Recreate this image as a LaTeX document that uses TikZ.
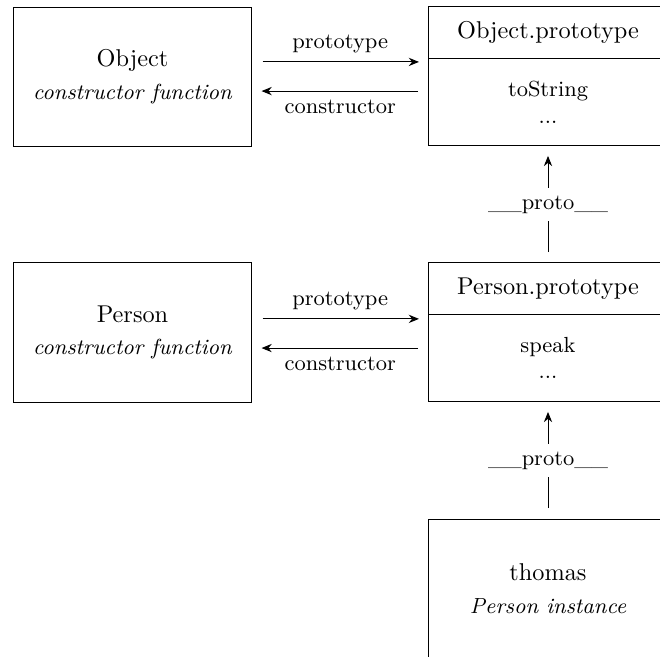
\documentclass[tikz,border=0pt]{standalone}
\usetikzlibrary{arrows.meta,calc}
\begin{document}
\begin{tikzpicture}[x=0.4115pt,y=-0.4115pt,line width=0.4pt,
  box/.style={draw,inner sep=0pt,align=center,minimum width=98pt},
  bigbox/.style={box,minimum height=57.6pt},
  headbox/.style={box,minimum height=21pt},
  bodybox/.style={box,minimum height=36.2pt,font=\small},
  arr/.style={-{Stealth[length=4.2pt,width=3.4pt]},shorten <=4.3pt,shorten >=3.9pt},
  lbl/.style={font=\small},
  protolbl/.style={fill=white,font=\small}]
\useasboundingbox (0,0) rectangle (660,657);
\clip (0,0) rectangle (660,657);
% row 1
\node[bigbox] (obj) at (132.5,77) {Object\\[1.5pt]{\small\itshape constructor function}};
\node[headbox] (objh) at (548,32.5) {Object.prototype};
\node[bodybox] (objb) at (548,102) {toString\\...};
% row 2
\node[bigbox] (per) at (132.5,332.5) {Person\\[1.5pt]{\small\itshape constructor function}};
\node[headbox] (perh) at (548,288.5) {Person.prototype};
\node[bodybox] (perb) at (548,358) {speak\\...};
% row 3
\node[bigbox] (tho) at (548,589) {thomas\\[1.5pt]{\small\itshape Person instance}};
% horizontal connectors
\draw[arr] ([yshift=6.2pt]obj.east) -- node[above,lbl]{prototype} ([yshift=6.2pt]obj.east -| objh.west);
\draw[arr] ([yshift=-5.8pt]obj.east -| objb.west) -- node[below,lbl]{constructor} ([yshift=-5.8pt]obj.east);
\draw[arr] ([yshift=5.6pt]per.east) -- node[above,lbl]{prototype} ([yshift=5.6pt]per.east -| perh.west);
\draw[arr] ([yshift=-6.4pt]per.east -| perb.west) -- node[below,lbl]{constructor} ([yshift=-6.4pt]per.east);
% vertical connectors
\draw[arr] (perh.north) -- node[protolbl]{\_\_proto\_\_} (objb.south);
\draw[arr] (tho.north) -- node[protolbl]{\_\_proto\_\_} (perb.south);
\end{tikzpicture}
\end{document}
